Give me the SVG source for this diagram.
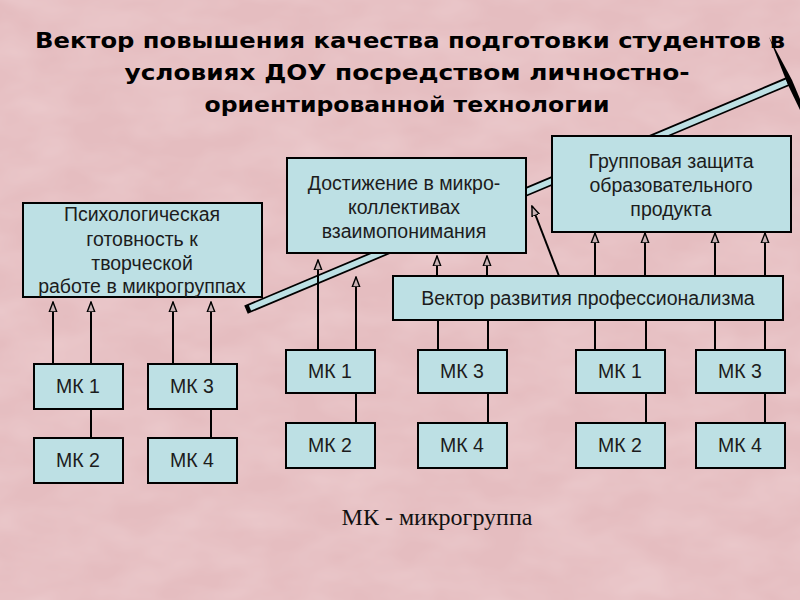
<svg xmlns="http://www.w3.org/2000/svg" width="800" height="600" viewBox="0 0 800 600">
  <defs>
    <filter id="mottle" x="0" y="0" width="100%" height="100%">
      <feTurbulence type="fractalNoise" baseFrequency="0.015 0.03" numOctaves="3" seed="7"/>
      <feColorMatrix type="matrix" values="0 0 0 0 1  0 0 0 0 0.9  0 0 0 0 0.91  0 0 0 0.35 -0.1"/>
    </filter>
    <marker id="arr" viewBox="0 -5 11 10" refX="10" refY="0" markerUnits="userSpaceOnUse" markerWidth="11" markerHeight="10" orient="auto">
      <path d="M0,-3.8 L10,0 L0,3.8 Z" fill="#c9b2b4" stroke="#000" stroke-width="1.4"/>
    </marker>
    <style>
      .box { fill: #bde0e4; stroke: #000; stroke-width: 2; }
      .lbl { font-family: "Liberation Sans", Arial, sans-serif; font-size: 19.5px; fill: #1c1c1c; text-anchor: middle; }
      .title { font-family: "DejaVu Sans", "Liberation Sans", sans-serif; font-weight: bold; font-size: 22px; fill: #000; text-anchor: middle; }
      .con { stroke: #000; stroke-width: 2; fill: none; }
      .arrow { stroke: #000; stroke-width: 2; fill: none; marker-end: url(#arr); }
    </style>
  </defs>

  <rect width="800" height="600" fill="#e5bdc0"/>
  <rect width="800" height="600" filter="url(#mottle)"/>

  <g id="title">
    <text class="title" x="410" y="48" textLength="750" lengthAdjust="spacingAndGlyphs">Вектор повышения качества подготовки студентов в</text>
    <text class="title" x="407" y="80" textLength="565" lengthAdjust="spacingAndGlyphs">условиях ДОУ посредством личностно-</text>
    <text class="title" x="407" y="112" textLength="405" lengthAdjust="spacingAndGlyphs">ориентированной технологии</text>
  </g>

  <g id="vector-bar">
    <line x1="246" y1="309.7" x2="789" y2="81" stroke="#000" stroke-width="9"/>
    <line x1="250" y1="308" x2="787" y2="82" stroke="#bde0e4" stroke-width="5.5"/>
    <polygon points="769,37 792,80 800,99 800,110 788,85" fill="#000"/>
  </g>

  <g id="connectors">
    <line class="arrow" x1="53" y1="364" x2="53" y2="302"/>
    <line class="arrow" x1="91" y1="364" x2="91" y2="302"/>
    <line class="arrow" x1="173" y1="364" x2="173" y2="302"/>
    <line class="arrow" x1="211" y1="364" x2="211" y2="302"/>
    <line class="con" x1="91" y1="409" x2="91" y2="438"/>
    <line class="con" x1="211" y1="409" x2="211" y2="438"/>

    <line class="arrow" x1="318" y1="350" x2="318" y2="260"/>
    <line class="arrow" x1="356" y1="350" x2="356" y2="277"/>
    <line class="con" x1="356" y1="393" x2="356" y2="423"/>
    <line class="con" x1="438" y1="350" x2="438" y2="320"/>
    <line class="con" x1="488" y1="350" x2="488" y2="320"/>
    <line class="con" x1="488" y1="393" x2="488" y2="423"/>
    <line class="arrow" x1="437" y1="276" x2="437" y2="256"/>
    <line class="arrow" x1="487" y1="276" x2="487" y2="256"/>

    <line class="con" x1="595" y1="350" x2="595" y2="320"/>
    <line class="con" x1="646" y1="350" x2="646" y2="320"/>
    <line class="con" x1="715" y1="350" x2="715" y2="320"/>
    <line class="con" x1="765" y1="350" x2="765" y2="320"/>
    <line class="con" x1="646" y1="393" x2="646" y2="423"/>
    <line class="con" x1="765" y1="393" x2="765" y2="423"/>
    <line class="arrow" x1="595" y1="276" x2="595" y2="233"/>
    <line class="arrow" x1="645" y1="276" x2="645" y2="233"/>
    <line class="arrow" x1="715" y1="276" x2="715" y2="233"/>
    <line class="arrow" x1="765" y1="276" x2="765" y2="233"/>
    <line class="arrow" x1="559" y1="276" x2="532" y2="206"/>
  </g>

  <g id="psych">
    <rect class="box" x="23" y="203" width="239" height="94"/>
    <text class="lbl" x="142" y="221">Психологическая</text>
    <text class="lbl" x="142" y="246">готовность к</text>
    <text class="lbl" x="142" y="270">творческой</text>
    <text class="lbl" x="142" y="293">работе в микрогруппах</text>
  </g>
  <g id="achieve">
    <rect class="box" x="287" y="158" width="239" height="95"/>
    <text class="lbl" x="404" y="190">Достижение в микро-</text>
    <text class="lbl" x="404" y="214">коллективах</text>
    <text class="lbl" x="404" y="238">взаимопонимания</text>
  </g>
  <g id="group-defense">
    <rect class="box" x="552" y="136" width="239" height="96"/>
    <text class="lbl" x="671" y="168">Групповая защита</text>
    <text class="lbl" x="671" y="192">образовательного</text>
    <text class="lbl" x="671" y="216">продукта</text>
  </g>
  <g id="prof-vector">
    <rect class="box" x="393" y="276" width="390" height="44"/>
    <text class="lbl" x="588" y="305">Вектор развития профессионализма</text>
  </g>

  <g id="mk-a1"><rect class="box" x="34" y="364" width="89" height="45"/><text class="lbl" x="78" y="393">МК 1</text></g>
  <g id="mk-a3"><rect class="box" x="148" y="364" width="89" height="45"/><text class="lbl" x="192" y="393">МК 3</text></g>
  <g id="mk-a2"><rect class="box" x="34" y="438" width="89" height="45"/><text class="lbl" x="78" y="467">МК 2</text></g>
  <g id="mk-a4"><rect class="box" x="148" y="438" width="89" height="45"/><text class="lbl" x="192" y="467">МК 4</text></g>

  <g id="mk-b1"><rect class="box" x="286" y="350" width="89" height="43"/><text class="lbl" x="330" y="378">МК 1</text></g>
  <g id="mk-b3"><rect class="box" x="418" y="350" width="89" height="43"/><text class="lbl" x="462" y="378">МК 3</text></g>
  <g id="mk-b2"><rect class="box" x="286" y="423" width="89" height="45"/><text class="lbl" x="330" y="452">МК 2</text></g>
  <g id="mk-b4"><rect class="box" x="418" y="423" width="89" height="45"/><text class="lbl" x="462" y="452">МК 4</text></g>

  <g id="mk-c1"><rect class="box" x="576" y="350" width="89" height="43"/><text class="lbl" x="620" y="378">МК 1</text></g>
  <g id="mk-c3"><rect class="box" x="696" y="350" width="89" height="43"/><text class="lbl" x="740" y="378">МК 3</text></g>
  <g id="mk-c2"><rect class="box" x="576" y="423" width="89" height="45"/><text class="lbl" x="620" y="452">МК 2</text></g>
  <g id="mk-c4"><rect class="box" x="696" y="423" width="89" height="45"/><text class="lbl" x="740" y="452">МК 4</text></g>

  <g id="legend">
    <text x="437" y="525" font-family="Liberation Serif, 'Times New Roman', serif" font-size="24" fill="#111" text-anchor="middle">МК - микрогруппа</text>
  </g>
</svg>
